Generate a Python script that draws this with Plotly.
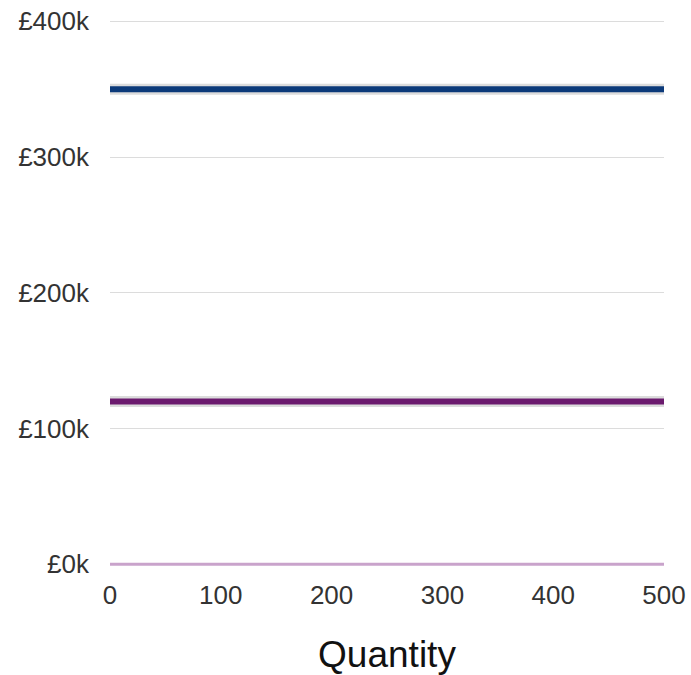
import plotly.graph_objects as go

quantity = [0, 500]
series_names = ["Upper", "Middle", "Zero"]
series_values = [[350000, 350000], [120000, 120000], [0, 0]]
series_colors = ["#0c3a7a", "#6b1a6e", "#c9a3cb"]
series_widths = [6, 6, 3]
y_tick_vals = [0, 100000, 200000, 300000, 400000]
y_tick_text = ["£0k", "£100k", "£200k", "£300k", "£400k"]
x_tick_vals = [0, 100, 200, 300, 400, 500]

fig = go.Figure()
for name, vals, col, w in zip(series_names, series_values, series_colors, series_widths):
    if w > 3:
        fig.add_trace(go.Scatter(x=quantity, y=vals, mode="lines",
                                 line=dict(color="rgba(60,60,60,0.18)", width=w + 5),
                                 hoverinfo="skip", showlegend=False))
    fig.add_trace(go.Scatter(x=quantity, y=vals, mode="lines", name=name,
                             line=dict(color=col, width=w), showlegend=False))

font_family = "Liberation Sans, Arial, sans-serif"
fig.update_layout(
    width=691, height=675,
    margin=dict(l=110, r=27, t=20, b=108),
    plot_bgcolor="white", paper_bgcolor="white",
    font=dict(family=font_family, color="#333333", size=26),
    xaxis=dict(range=[0, 500], tickvals=x_tick_vals, showgrid=False, zeroline=False,
               showline=False, ticks="", ticklabelstandoff=10, automargin=False,
               title=dict(text="Quantity", font=dict(size=37, color="#111111"), standoff=32),
               tickfont=dict(size=26, color="#333333")),
    yaxis=dict(range=[-2000, 401000], tickvals=y_tick_vals, ticktext=y_tick_text,
               showgrid=True, gridcolor="#dcdcdc", gridwidth=1, zeroline=False,
               showline=False, ticks="", ticklabelstandoff=20, automargin=False,
               tickfont=dict(size=26, color="#333333")),
)
fig.write_html("out.html")
